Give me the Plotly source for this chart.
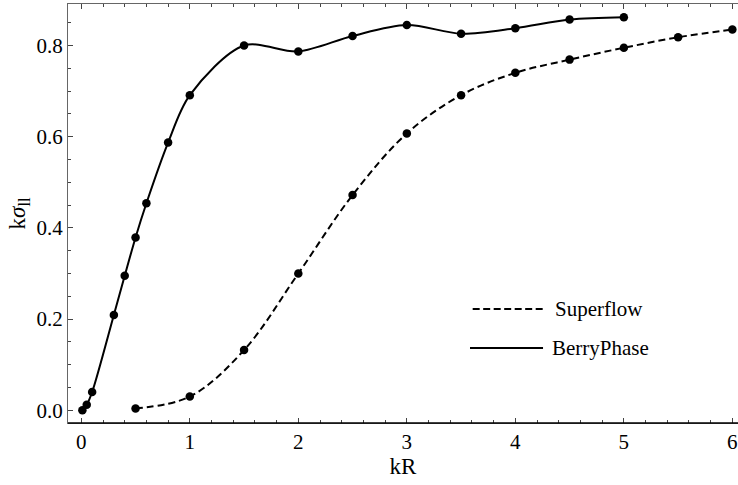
import plotly.graph_objects as go

# Data
berry_x = [0.01, 0.05, 0.1, 0.3, 0.4, 0.5, 0.6, 0.8, 1.0, 1.5, 2.0, 2.5, 3.0, 3.5, 4.0, 4.5, 5.0]
berry_y = [0.0, 0.012, 0.04, 0.209, 0.295, 0.379, 0.454, 0.587, 0.691, 0.800, 0.787, 0.821, 0.845, 0.826, 0.838, 0.857, 0.862]

super_x = [0.5, 1.0, 1.5, 2.0, 2.5, 3.0, 3.5, 4.0, 4.5, 5.0, 5.5, 6.0]
super_y = [0.004, 0.030, 0.132, 0.300, 0.472, 0.607, 0.691, 0.740, 0.769, 0.795, 0.818, 0.835]

legend_names = ["Superflow", "BerryPhase"]

FONT = "'Liberation Serif', 'DejaVu Serif', serif"

fig = go.Figure()
fig.add_trace(go.Scatter(
    x=super_x, y=super_y, mode="lines+markers", name=legend_names[0],
    line=dict(color="black", width=2, dash="7px,4px", shape="spline", smoothing=1.0),
    marker=dict(color="black", size=8.5), showlegend=False))
fig.add_trace(go.Scatter(
    x=berry_x, y=berry_y, mode="lines+markers", name=legend_names[1],
    line=dict(color="black", width=2, shape="spline", smoothing=0.9),
    marker=dict(color="black", size=8.5), showlegend=False))

# custom legend (paper coordinates)
leg_rows = [(0.272, 0.604, "7px,3.5px", legend_names[0], 0.727),
            (0.179, 0.600, "solid", legend_names[1], 0.722)]
for yy, x0, dash, name, tx in leg_rows:
    fig.add_shape(type="line", xref="paper", yref="paper", x0=x0, x1=0.709, y0=yy, y1=yy,
                  line=dict(color="black", width=2, dash=dash))
    fig.add_annotation(xref="paper", yref="paper", x=tx, y=yy, text=name, showarrow=False,
                       xanchor="left", yanchor="middle", xshift=-2,
                       font=dict(family=FONT, size=21, color="black"))

# bottom black axis line
fig.add_shape(type="line", xref="paper", yref="paper", x0=0, x1=1, y0=0, y1=0,
              line=dict(color="black", width=1.6))

fig.update_layout(
    width=738, height=485,
    margin=dict(l=68, r=0, t=4, b=62),
    plot_bgcolor="white", paper_bgcolor="white",
    font=dict(family=FONT, size=20, color="black"),
    xaxis=dict(
        range=[-0.1226, 6.052], showgrid=False, zeroline=False,
        showline=True, linecolor="#666", linewidth=1, mirror="ticks",
        ticks="inside", ticklen=5, tickcolor="#444", tickwidth=1,
        tickmode="linear", tick0=0, dtick=1,
        minor=dict(ticks="inside", ticklen=3, dtick=0.2, tickcolor="#444", showgrid=False),
        title=dict(text="kR", font=dict(family=FONT, size=23), standoff=0),
        tickfont=dict(family=FONT, size=21),
    ),
    yaxis=dict(
        range=[-0.028, 0.891], showgrid=False, zeroline=False,
        showline=True, linecolor="#666", linewidth=1,
        ticks="inside", ticklen=5, tickcolor="#444", tickwidth=1,
        tickmode="linear", tick0=0, dtick=0.2, tickformat=".1f",
        minor=dict(ticks="inside", ticklen=3, dtick=0.05, tickcolor="#444", showgrid=False),
        title=dict(text="k<i>σ</i><sub>ll</sub>", font=dict(family=FONT, size=23), standoff=4),
        tickfont=dict(family=FONT, size=21),
    ),
)

fig.write_html("out.html")
